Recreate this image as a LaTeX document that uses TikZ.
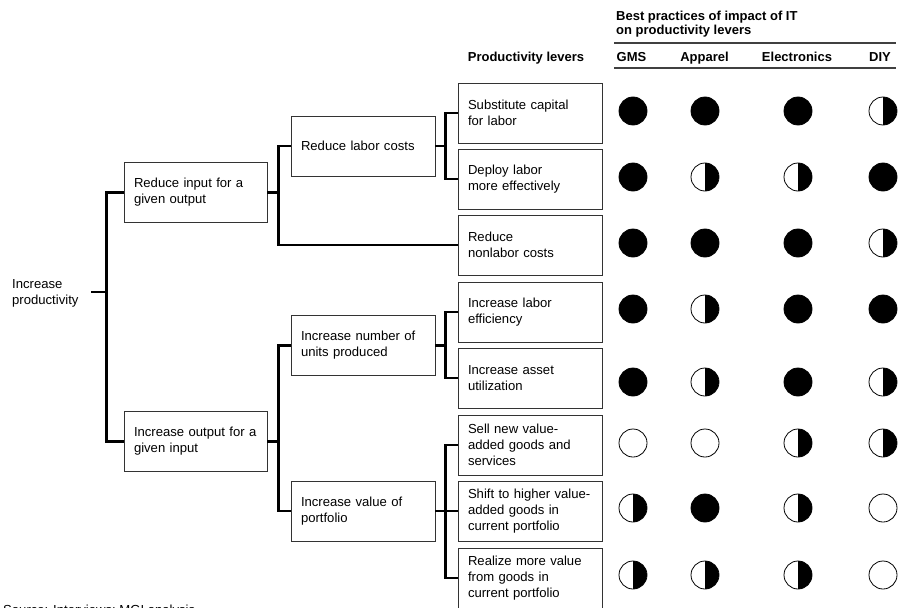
\documentclass[tikz,border=0pt]{standalone}
\usepackage{fontspec}
\setmainfont{Liberation Sans}
\begin{document}
\begin{tikzpicture}[x=1pt,y=-1pt,
  txt/.style={font=\fontsize{13.1}{16}\selectfont, text=black},
  hdr/.style={font=\bfseries\fontsize{13}{14}\selectfont, text=black, inner sep=0},
  colhdr/.style={hdr, anchor=base},
  box/.style={txt, draw=black!80, line width=0.9pt, align=left,
    minimum height=60pt, inner xsep=10pt, inner ysep=0pt},
  boxA/.style={box, text width=123pt},
  boxB/.style={box, text width=124pt},
  conn/.style={line width=2.8pt, black, line cap=butt, line join=miter},
  rule/.style={line width=1.8pt, black!75},
  hv/.style={circle, draw=black, line width=0.8pt, minimum size=28pt, inner sep=0pt},
  hfull/.style={hv, fill=black},
  hempty/.style={hv, fill=white},
  hhalf/.style={hv, fill=white, path picture={
      \fill[black] (path picture bounding box.north) rectangle (path picture bounding box.south east);}},
]
\useasboundingbox (0,0) rectangle (901,607);

% header
\node[hdr, anchor=north west, align=left] (title) at (616,10.5)
  {Best practices of impact of IT\\on productivity levers};
\draw[rule] (614,43) -- (896,43);
\draw[rule] (614,68) -- (896,68);
\node[colhdr] (hlev) at (526,61.5) {Productivity levers};
\node[colhdr] (hgms) at (631.5,61.5) {GMS};
\node[colhdr] (happ) at (704.5,61.5) {Apparel};
\node[colhdr] (hele) at (797,61.5) {Electronics};
\node[colhdr] (hdiy) at (880,61.5) {DIY};

% root of the tree
\node[txt, align=left, anchor=west, inner sep=0] (root) at (12,293) {Increase\\productivity};
\coordinate (rootend) at (91,292);

% first level
\node[boxA, minimum width=143pt] (ri) at (195.5,192.5) {Reduce input for a\\given output};
\node[boxA, minimum width=143pt] (io) at (195.5,441.5) {Increase output for a\\given input};

% second level
\node[boxB] (rl) at (363,146) {Reduce labor costs};
\node[boxB] (in) at (363,345.5) {Increase number of\\units produced};
\node[boxB] (iv) at (363,511) {Increase value of\\portfolio};

% productivity levers
\node[boxB] (l1) at (530,113) {Substitute capital\\for labor};
\node[boxB] (l2) at (530,179) {Deploy labor\\more effectively};
\node[boxB] (l3) at (530,245) {Reduce\\nonlabor costs};
\node[boxB] (l4) at (530,312) {Increase labor\\efficiency};
\node[boxB] (l5) at (530,378) {Increase asset\\utilization};
\node[boxB] (l6) at (530,445) {Sell new value-\\added goods and\\services};
\node[boxB] (l7) at (530,511) {Shift to higher value-\\added goods in\\current portfolio};
\node[boxB] (l8) at (530,578) {Realize more value\\from goods in\\current portfolio};

% tree connectors
\draw[conn] (rootend) -- (107,292);
\draw[conn] (ri.west) -- ++(-17,0) |- (io.west);
\draw[conn] (ri.east) -- ++(12,0);
\draw[conn] (rl.west) -- ++(-12,0) |- (l3.west);
\draw[conn] (rl.east) -- ++(11,0);
\draw[conn] (l1.west) -- ++(-12,0) |- (l2.west);
\draw[conn] (io.east) -- ++(12,0);
\draw[conn] (in.west) -- ++(-12,0) |- (iv.west);
\draw[conn] (in.east) -- ++(12,0);
\draw[conn] (l4.west) -- ++(-12,0) |- (l5.west);
\draw[conn] (iv.east) -- ++(12,0);
\draw[conn] (l6.west) -- ++(-12,0) |- (l8.west);
\draw[conn] (l7.west) -- ++(-12,0);

% impact ratings: columns GMS, Apparel, Electronics, DIY
\foreach \y/\a/\b/\c/\d [count=\r] in {
  111/hfull/hfull/hfull/hhalf,
  177/hfull/hhalf/hhalf/hfull,
  243/hfull/hfull/hfull/hhalf,
  309/hfull/hhalf/hfull/hfull,
  382/hfull/hhalf/hfull/hhalf,
  443/hempty/hempty/hhalf/hhalf,
  508/hhalf/hfull/hhalf/hempty,
  575/hhalf/hhalf/hhalf/hempty}{
  \node[\a] (c\r a) at (633,\y) {};
  \node[\b] (c\r b) at (705,\y) {};
  \node[\c] (c\r c) at (798,\y) {};
  \node[\d] (c\r d) at (883,\y) {};
}

% source line, running off the lower edge of the page
\node[txt, anchor=base west, inner sep=0] (src) at (3,614) {Source: Interviews; MGI analysis};
\end{tikzpicture}
\end{document}
